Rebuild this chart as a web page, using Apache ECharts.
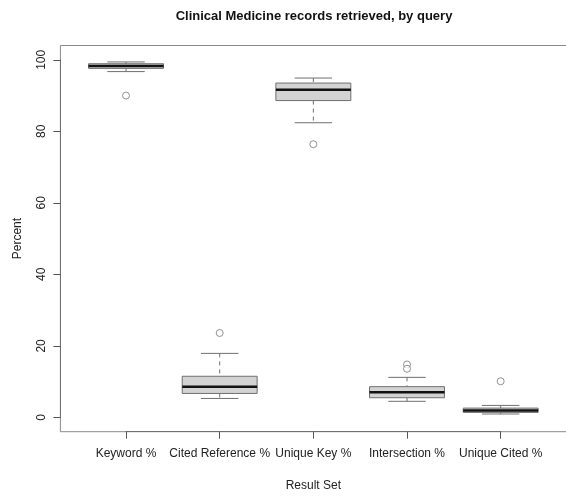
<!DOCTYPE html>
<html>
<head>
<meta charset="utf-8">
<script src="https://cdn.jsdelivr.net/npm/echarts@6/dist/echarts.min.js"></script>
<style>
  html, body { margin: 0; padding: 0; background: #ffffff; }
  #chart { width: 566px; height: 497px; }
</style>
</head>
<body>
<div id="chart"></div>
<script>
// Share of Clinical Medicine records retrieved by each query result set (percent)
const categories = ['Keyword %', 'Cited Reference %', 'Unique Key %', 'Intersection %', 'Unique Cited %'];
const lowerWhisker = [96.7, 5.3, 82.4, 4.5, 0.95];
const lowerQuartile = [97.6, 6.7, 88.6, 5.5, 1.4];
const medians = [98.3, 8.6, 91.6, 7.0, 1.9];
const upperQuartile = [98.9, 11.5, 93.5, 8.6, 2.6];
const upperWhisker = [99.4, 17.9, 94.9, 11.2, 3.35];
// Outlying observations: which result set, and its value
const outlierSet = [0, 1, 2, 3, 3, 4];
const outlierValue = [90.0, 23.6, 76.4, 14.8, 13.6, 10.1];
const yTickStep = 20;

const FONT = '"Liberation Sans", Arial, Helvetica, sans-serif';
// Value range of the plot frame (0..100 padded by 4% on each side)
const Y_MIN = -4, Y_MAX = 104;

const boxData = categories.map((c, i) => [i, lowerWhisker[i], lowerQuartile[i], medians[i], upperQuartile[i], upperWhisker[i]]);
const outlierData = outlierSet.map((s, k) => [s, outlierValue[k]]);

const whiskerStyle = { stroke: '#6f6f6f', lineWidth: 1, lineDash: [4, 4] };
const capStyle = { stroke: '#6f6f6f', lineWidth: 1 };

// Box, dashed whiskers, staples and a heavy median line for one result set
function renderBox(params, api) {
  const i = api.value(0);
  const band = api.size([1, 0])[0];
  const half = band * 0.4;
  const cap = band * 0.2;
  const cx = api.coord([i, api.value(3)])[0];
  const y = v => api.coord([i, v])[1];
  const yLo = y(api.value(1));
  const yQ1 = y(api.value(2));
  const yMed = y(api.value(3));
  const yQ3 = y(api.value(4));
  const yHi = y(api.value(5));
  return {
    type: 'group',
    children: [
      { type: 'line', shape: { x1: cx, y1: yHi, x2: cx, y2: yQ3 }, style: whiskerStyle },
      { type: 'line', shape: { x1: cx, y1: yQ1, x2: cx, y2: yLo }, style: whiskerStyle },
      { type: 'line', shape: { x1: cx - cap, y1: yHi, x2: cx + cap, y2: yHi }, style: capStyle },
      { type: 'line', shape: { x1: cx - cap, y1: yLo, x2: cx + cap, y2: yLo }, style: capStyle },
      { type: 'rect', shape: { x: cx - half, y: yQ3, width: 2 * half, height: yQ1 - yQ3 },
        style: { fill: '#d3d3d3', stroke: '#6f6f6f', lineWidth: 1 } },
      { type: 'line', shape: { x1: cx - half, y1: yMed, x2: cx + half, y2: yMed },
        style: { stroke: '#111111', lineWidth: 2.5 } }
    ]
  };
}

const chart = echarts.init(document.getElementById('chart'), null, { renderer: 'canvas' });
chart.setOption({
  backgroundColor: '#ffffff',
  animation: false,
  title: {
    text: 'Clinical Medicine records retrieved, by query',
    left: 309, top: 5, textAlign: 'center',
    textStyle: { fontFamily: FONT, fontSize: 13, fontWeight: 'bold', color: '#111111' }
  },
  grid: [
    // plot frame
    { left: 60.4, right: -1.5, top: 45.5, bottom: 65.3, outerBoundsMode: 'none', show: true, borderColor: '#8a8a8a', borderWidth: 1, backgroundColor: 'transparent' },
    // boxes, centred on the category positions
    { left: 79.2, right: 18.5, top: 45.5, bottom: 65.3, outerBoundsMode: 'none' },
    // y axis drawn over 0..100 only
    { left: 60.4, right: -1.5, top: 59.8, bottom: 79.6, outerBoundsMode: 'none' },
    // x axis line running from the first to the last category tick
    { left: 126, right: 65.3, top: 45.5, bottom: 65.3, outerBoundsMode: 'none' }
  ],
  xAxis: [
    { gridIndex: 0, type: 'value', min: 0, max: 1, show: false },
    {
      gridIndex: 1, type: 'category', data: categories, boundaryGap: true,
      axisLine: { show: false, onZero: false },
      axisTick: { show: true, alignWithLabel: true, interval: 0, length: 7, lineStyle: { color: '#555555' } },
      axisLabel: { interval: 0, margin: 16, fontFamily: FONT, fontSize: 12, color: '#222222' },
      name: 'Result Set', nameLocation: 'middle', nameGap: 48,
      nameTextStyle: { fontFamily: FONT, fontSize: 12, color: '#222222' }
    },
    { gridIndex: 2, type: 'value', min: 0, max: 1, show: false },
    {
      gridIndex: 3, type: 'value', min: 0, max: 1, position: 'bottom',
      axisLine: { show: true, onZero: false, lineStyle: { color: '#707070' } },
      axisTick: { show: false }, axisLabel: { show: false }, splitLine: { show: false }
    }
  ],
  yAxis: [
    { gridIndex: 0, type: 'value', min: Y_MIN, max: Y_MAX, show: false },
    { gridIndex: 1, type: 'value', min: Y_MIN, max: Y_MAX, show: false },
    {
      gridIndex: 2, type: 'value', min: 0, max: 100, interval: yTickStep,
      axisLine: { show: true, onZero: false, lineStyle: { color: '#707070' } },
      splitLine: { show: false },
      axisTick: { show: true, length: 7, lineStyle: { color: '#555555' } },
      axisLabel: { rotate: 90, margin: 13, fontFamily: FONT, fontSize: 12, color: '#222222' },
      name: 'Percent', nameLocation: 'middle', nameGap: 37, nameRotate: 90,
      nameTextStyle: { fontFamily: FONT, fontSize: 12, color: '#222222' }
    },
    { gridIndex: 3, type: 'value', min: 0, max: 1, show: false }
  ],
  series: [
    {
      type: 'custom', xAxisIndex: 1, yAxisIndex: 1,
      renderItem: renderBox,
      encode: { x: 0, y: [1, 2, 3, 4, 5] },
      data: boxData
    },
    {
      type: 'scatter', xAxisIndex: 1, yAxisIndex: 1,
      symbol: 'circle', symbolSize: 7,
      itemStyle: { color: '#ffffff', borderColor: '#777777', borderWidth: 1 },
      data: outlierData
    }
  ]
});
</script>
</body>
</html>
